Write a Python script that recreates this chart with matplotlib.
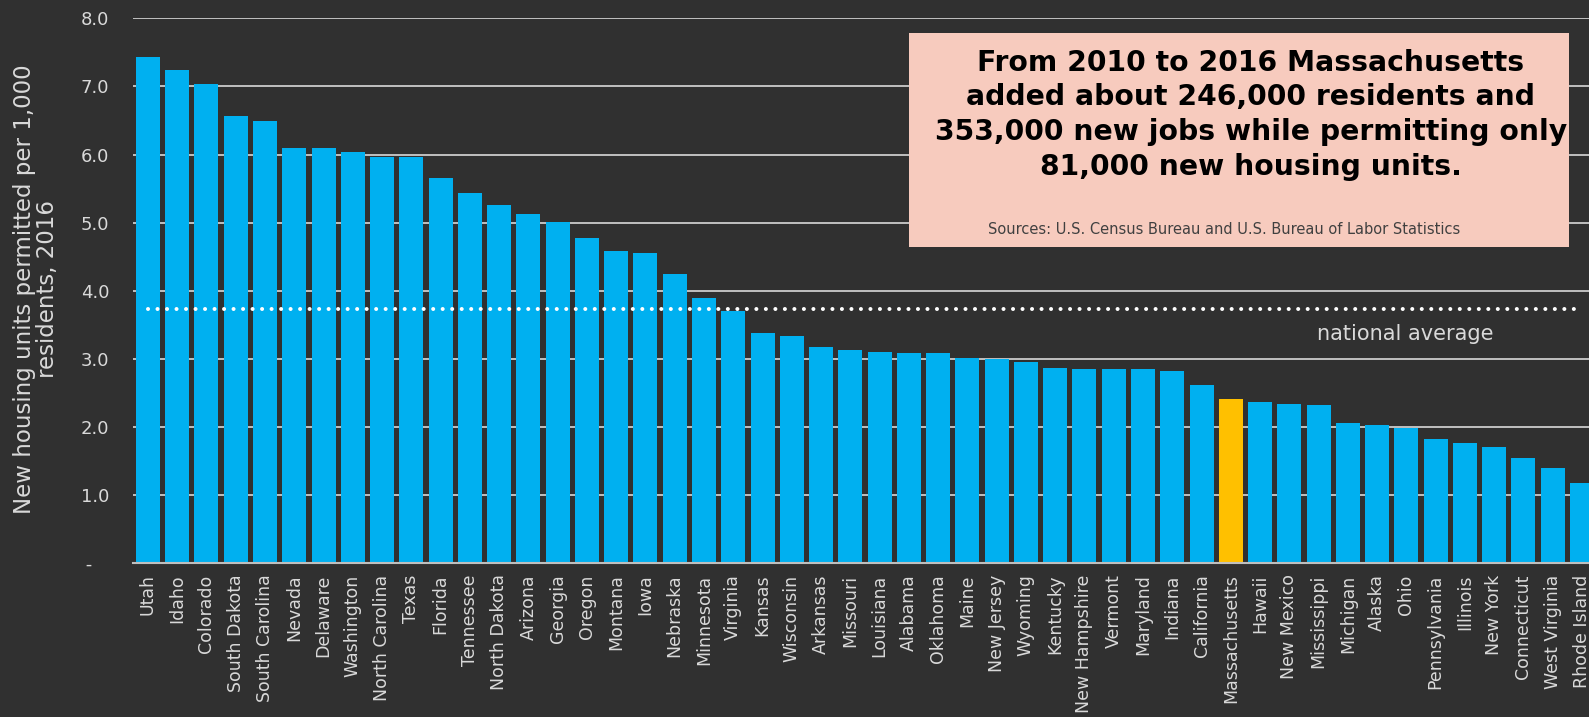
import matplotlib
matplotlib.use("Agg")
import matplotlib.pyplot as plt
from matplotlib.patches import Rectangle
from matplotlib.ticker import FuncFormatter, MultipleLocator

states = ["Utah", "Idaho", "Colorado", "South Dakota", "South Carolina", "Nevada",
          "Delaware", "Washington", "North Carolina", "Texas", "Florida", "Tennessee",
          "North Dakota", "Arizona", "Georgia", "Oregon", "Montana", "Iowa", "Nebraska",
          "Minnesota", "Virginia", "Kansas", "Wisconsin", "Arkansas", "Missouri",
          "Louisiana", "Alabama", "Oklahoma", "Maine", "New Jersey", "Wyoming",
          "Kentucky", "New Hampshire", "Vermont", "Maryland", "Indiana", "California",
          "Massachusetts", "Hawaii", "New Mexico", "Mississippi", "Michigan", "Alaska",
          "Ohio", "Pennsylvania", "Illinois", "New York", "Connecticut", "West Virginia",
          "Rhode Island"]
units_per_1000 = [7.43, 7.24, 7.04, 6.56, 6.49, 6.10, 6.09, 6.04, 5.97, 5.96, 5.65,
                  5.44, 5.26, 5.13, 5.01, 4.78, 4.58, 4.56, 4.24, 3.89, 3.70, 3.38,
                  3.34, 3.18, 3.13, 3.10, 3.08, 3.08, 3.02, 3.00, 2.96, 2.87, 2.85,
                  2.85, 2.85, 2.83, 2.62, 2.41, 2.37, 2.34, 2.32, 2.06, 2.03, 1.98,
                  1.83, 1.77, 1.71, 1.55, 1.40, 1.18]
national_average = 3.74
highlight = "Massachusetts"

callout_lines = ["From 2010 to 2016 Massachusetts",
                 "added about 246,000 residents and",
                 "353,000 new jobs while permitting only",
                 "81,000 new housing units."]
source_text = "Sources: U.S. Census Bureau and U.S. Bureau of Labor Statistics"

BG = "#303030"
BLUE = "#00b0f0"
GOLD = "#ffc000"
LIGHT = "#d9d9d9"

plt.rcParams["font.family"] = ["DejaVu Sans"]

fig = plt.figure(figsize=(15.89, 7.17), dpi=100, facecolor=BG)
ax = fig.add_axes([133 / 1589, 1 - 563.3 / 717, 1 - 133 / 1589, (563.3 - 18.3) / 717])
ax.set_facecolor(BG)

x = list(range(len(states)))
colors = [GOLD if s == highlight else BLUE for s in states]
ax.bar(x, units_per_1000, width=0.82, color=colors, zorder=2)

ax.plot([0, len(states) - 1], [national_average, national_average], color="white",
        lw=2.9, linestyle=(0, (0.01, 2.35)), dash_capstyle="round", zorder=3)
ax.text(42.95, 3.36, "national average", color=LIGHT, fontsize=15,
        ha="center", va="center", zorder=4)

ax.set_xlim(-0.51, 49.24)
ax.set_ylim(0, 8)
ax.yaxis.set_major_locator(MultipleLocator(1))
ax.yaxis.set_major_formatter(FuncFormatter(lambda v, p: " -   " if abs(v) < 1e-9 else f"{v:.1f}"))
ax.grid(axis="y", color=LIGHT, lw=1.2, zorder=0)
ax.set_axisbelow(True)

ax.set_xticks(x)
ax.set_xticklabels(states, rotation=90, color=LIGHT, fontsize=12.5)
ax.tick_params(axis="x", length=0, pad=8)
ax.tick_params(axis="y", length=0, pad=17, labelcolor=LIGHT, labelsize=13)

for side in ["top", "right", "left"]:
    ax.spines[side].set_visible(False)
ax.spines["bottom"].set_color("#bfbfbf")
ax.spines["bottom"].set_linewidth(1.5)

fig.text(36 / 1589, 1 - 289 / 717, "New housing units permitted per 1,000\nresidents, 2016",
         rotation=90, ha="center", va="center", color=LIGHT, fontsize=16.5,
         multialignment="center", linespacing=1.05)

box = Rectangle((909 / 1589, 1 - 246.7 / 717), (1569 - 909) / 1589, (246.7 - 32.7) / 717,
                transform=fig.transFigure, facecolor="#f7cbbe", edgecolor="none", zorder=5)
fig.add_artist(box)
line_y = [63, 97, 132, 167]
for txt, yy in zip(callout_lines, line_y):
    fig.text(1251 / 1589, 1 - yy / 717, txt, ha="center", va="center", fontsize=20.3,
             fontweight="bold", color="black", zorder=6)
fig.text(1224 / 1589, 1 - 229 / 717, source_text, ha="center", va="center",
         fontsize=10.5, color="#404040", zorder=6)

fig.savefig("out.png", dpi=100, facecolor=BG)
